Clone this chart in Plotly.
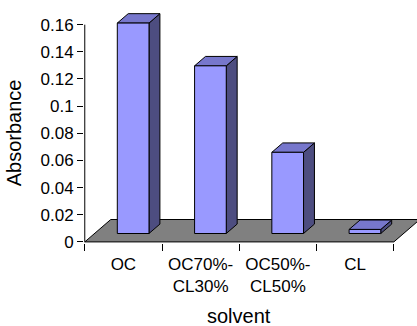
import plotly.graph_objects as go

# Absorbance of each solvent mixture
categories = ["OC", "OC70%-CL30%", "OC50%-CL50%", "CL"]
tick_labels = ["OC", "OC70%-<br>CL30%", "OC50%-<br>CL50%", "CL"]
absorbance = [0.155, 0.1235, 0.0598, 0.003]
y_ticks = [0, 0.02, 0.04, 0.06, 0.08, 0.1, 0.12, 0.14, 0.16]

# Oblique projection of the depth direction (data units per unit depth)
DEPTH_X = 0.3365
DEPTH_Y = 0.0165
BAR_FRONT = 0.375      # depth of the bar front face
BAR_BACK = 0.795       # depth of the bar back face
BAR_WIDTH = 0.41

FRONT = "#9999FF"
TOP = "#7777CC"
SIDE = "#4D4D80"
FLOOR = "#808080"
FONT = "Liberation Sans, Arial, sans-serif"

fig = go.Figure()


def face(xs, ys, color):
    fig.add_trace(go.Scatter(
        x=xs + [xs[0]], y=ys + [ys[0]], mode="lines", fill="toself",
        fillcolor=color, line=dict(color="black", width=1),
        hoverinfo="skip", showlegend=False))


n = len(categories)
x0, x1 = -0.5, n - 0.5

# gray floor
face([x0, x1, x1 + DEPTH_X, x0 + DEPTH_X], [0, 0, DEPTH_Y, DEPTH_Y], FLOOR)

# 3-D columns: side, top, then front face
for i, v in enumerate(absorbance):
    fx, fy = BAR_FRONT * DEPTH_X, BAR_FRONT * DEPTH_Y
    bx, by = BAR_BACK * DEPTH_X, BAR_BACK * DEPTH_Y
    left = i - BAR_WIDTH / 2 + fx
    right = i + BAR_WIDTH / 2 + fx
    ddx, ddy = bx - fx, by - fy
    bottom, top = fy, fy + v
    face([right, right + ddx, right + ddx, right],
         [bottom, bottom + ddy, top + ddy, top], SIDE)
    face([left, right, right + ddx, left + ddx],
         [top, top, top + ddy, top + ddy], TOP)
    face([left, right, right, left], [bottom, bottom, top, top], FRONT)

# value axis line
fig.add_trace(go.Scatter(x=[x0, x0], y=[0, y_ticks[-1]], mode="lines",
                         line=dict(color="black", width=1),
                         hoverinfo="skip", showlegend=False))

fig.update_layout(
    width=417, height=326,
    margin=dict(l=84, r=0, t=5, b=83),
    plot_bgcolor="white", paper_bgcolor="white",
    font=dict(family=FONT, size=17, color="black"),
    xaxis=dict(
        range=[-0.51, 3.8], showgrid=False, zeroline=False, showline=False,
        tickvals=list(range(n)), ticktext=tick_labels, ticks="",
        ticklabelstandoff=9,
        minor=dict(tickvals=[i - 0.5 for i in range(n + 1)], ticks="outside",
                   ticklen=7, tickcolor="black", tickwidth=1),
    ),
    yaxis=dict(
        range=[-0.0008, 0.1745], showgrid=False, zeroline=False,
        showline=False, tickvals=y_ticks, ticks="outside", ticklen=6,
        tickcolor="black", tickwidth=1,
    ),
    annotations=[
        dict(text="solvent", xref="x", yref="paper", x=1.5, y=0,
             yshift=-60, yanchor="top", showarrow=False,
             font=dict(family=FONT, size=20)),
        dict(text="Absorbance", xref="paper", yref="y", x=0, y=0.08,
             xanchor="right", xshift=-57, textangle=-90, showarrow=False,
             font=dict(family=FONT, size=20)),
    ],
)

fig.write_html("out.html")
